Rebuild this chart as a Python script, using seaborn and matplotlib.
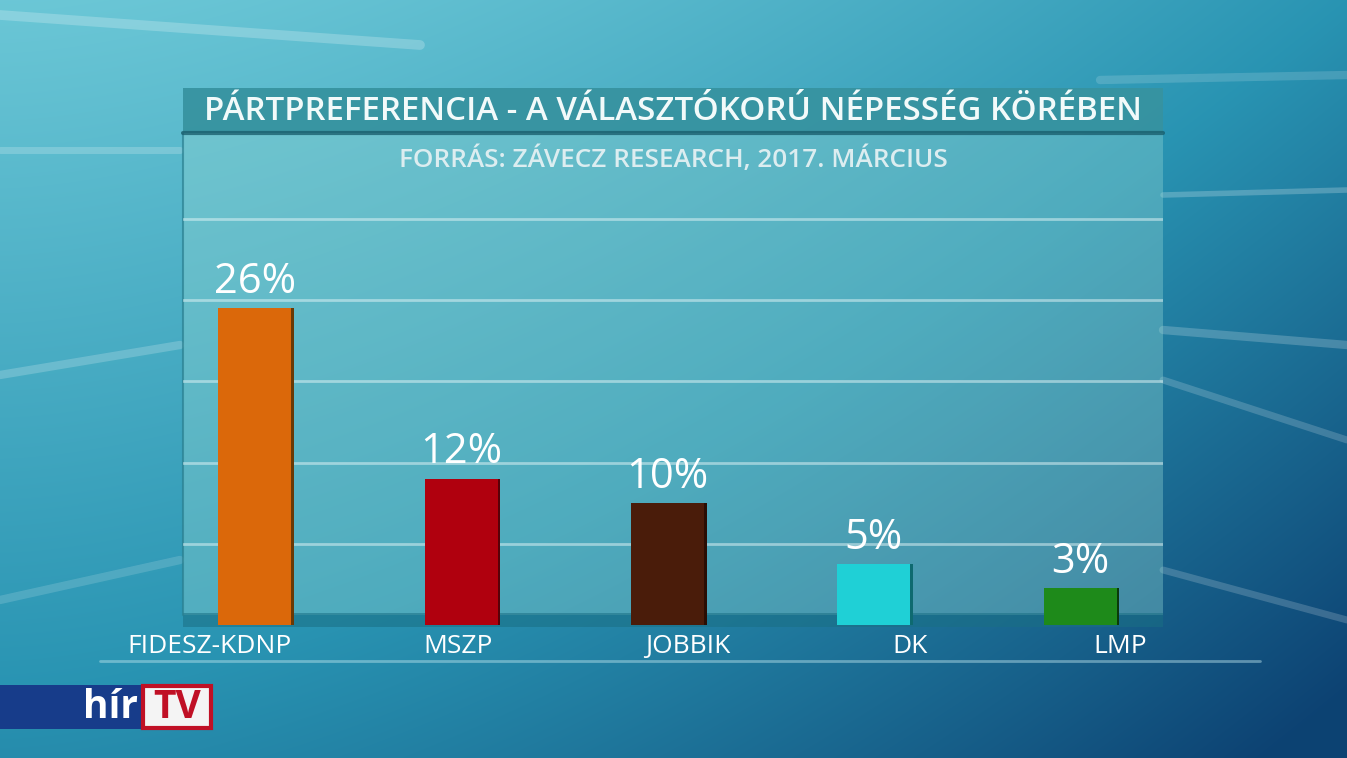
import numpy as np
import matplotlib
matplotlib.use("Agg")
import matplotlib.pyplot as plt
from matplotlib.patches import Rectangle
import seaborn as sns

parties = ["FIDESZ-KDNP", "MSZP", "JOBBIK", "DK", "LMP"]
values = [26, 12, 10, 5, 3]
value_labels = ["26%", "12%", "10%", "5%", "3%"]
title = "PÁRTPREFERENCIA - A VÁLASZTÓKORÚ NÉPESSÉG KÖRÉBEN"
subtitle = "FORRÁS: ZÁVECZ RESEARCH, 2017. MÁRCIUS"

bar_colors = ["#DB680A", "#B0000E", "#4A1C0A", "#1FD0D6", "#1E8A1A"]
side_colors = ["#6a3a06", "#5a0008", "#2a0e04", "#0e6a70", "#0a3a0a"]
label_shift = [-0.22, -0.015, 0.10, 0.175, 0.195]

sns.set_theme(style="white")
plt.rcParams['font.family'] = ['Open Sans', 'DejaVu Sans']

W, H = 1347, 758
fig = plt.figure(figsize=(W / 100, H / 100), dpi=100)

# ---- background
bg = fig.add_axes([0, 0, 1, 1])
yy, xx = np.mgrid[0:H, 0:W]
xf = xx / W
yf = yy / H
top = np.array([0.42, 0.78, 0.84])
mid = np.array([0.16, 0.58, 0.70])
dark = np.array([0.05, 0.26, 0.45])
t = np.clip(0.55 * yf + 0.5 * xf ** 1.6, 0, 1)[..., None]
img = np.where(t < 0.5, top + (mid - top) * (t / 0.5), mid + (dark - mid) * ((t - 0.5) / 0.5))
bg.imshow(img, extent=[0, W, H, 0], aspect="auto", zorder=0)
bg.set_xlim(0, W)
bg.set_ylim(H, 0)
bg.axis("off")

# soft streaks
for (x0, y0, x1, y1, a, lw) in [(0, 15, 420, 45, 0.22, 7), (0, 150, 180, 150, 0.2, 5),
                                (0, 375, 180, 345, 0.2, 6), (0, 600, 180, 560, 0.15, 6),
                                (1163, 330, 1347, 345, 0.2, 6), (1163, 380, 1347, 440, 0.18, 5),
                                (1163, 570, 1347, 620, 0.18, 5), (1163, 195, 1347, 190, 0.22, 4),
                                (1100, 80, 1347, 75, 0.15, 6)]:
    bg.plot([x0, x1], [y0, y1], color="white", alpha=a, lw=lw, solid_capstyle="round", zorder=1)

# panel
bg.add_patch(Rectangle((183, 88), 980, 527, facecolor="#8fd4d2", alpha=0.38, edgecolor="none", zorder=2))
bg.plot([183, 183], [133, 615], color="#2a7f90", lw=1.5, alpha=0.7, zorder=3)
# floor strip
bg.add_patch(Rectangle((183, 613), 980, 14, facecolor="#1a6f84", alpha=0.55, edgecolor="none", zorder=2))
bg.plot([100, 1260], [661, 661], color="#bfe6ee", lw=2, alpha=0.45, zorder=2)
# title bar
bg.add_patch(Rectangle((183, 88), 980, 45, facecolor="#33909e", alpha=0.9, edgecolor="none", zorder=3))
bg.plot([183, 1163], [133, 133], color="#1a5f6e", lw=3, alpha=0.8, zorder=3)
bg.text(673, 112, title, color="#f2fafa", fontsize=23.8, fontweight="semibold",
        ha="center", va="center", zorder=4)
bg.text(673, 160, subtitle, color="#dcedf0", fontsize=18.8, fontweight="semibold",
        ha="center", va="center", zorder=4)

# logo
bg.add_patch(Rectangle((0, 685), 212, 44, facecolor="#173c8a", edgecolor="none", zorder=3))
bg.add_patch(Rectangle((143, 686), 68, 42, facecolor="#f4f4f4", edgecolor="#c01025", lw=3, zorder=4))
bg.text(111, 708, "hír", color="white", fontsize=28, fontweight="bold", ha="center", va="center", zorder=5)
bg.text(177, 708, "TV", color="#c01025", fontsize=28, fontweight="bold", ha="center", va="center", zorder=5)

# ---- chart
px_per_pct = 12.18
ax = fig.add_axes([183 / W, (H - 625) / H, 980 / W, (625 - 133) / H])
ax.patch.set_alpha(0)
sns.barplot(x=parties, y=values, hue=parties, palette=bar_colors, legend=False,
            width=0.354, saturation=1, linewidth=0, ax=ax, zorder=3)
ax.set_xlim(-0.349, 4.402)
ax.set_ylim(0, (625 - 133) / px_per_pct)
ax.set_yticks(np.arange(1, 6) * 20 / 3)
ax.yaxis.grid(True, color="#e6f6f8", alpha=0.5, lw=2)
ax.xaxis.grid(False)
ax.set_axisbelow(True)
ax.tick_params(length=0, labelleft=False, labelbottom=False)
ax.set_xlabel("")
ax.set_ylabel("")
for s in ax.spines.values():
    s.set_visible(False)

containers = list(ax.containers)
bars = [b for c in containers for b in c]

for c in containers:
    ax.bar_label(c, labels=[value_labels[int(round(b.get_x() + b.get_width() / 2))] for b in c],
                 padding=4, color="white", fontsize=30)

# thin 3D side edge on the bars
for b in bars:
    i = int(round(b.get_x() + b.get_width() / 2))
    ax.bar(b.get_x() + b.get_width(), b.get_height(), width=0.012, align="edge",
           color=side_colors[i], zorder=3.5, linewidth=0)

for i, name in enumerate(parties):
    ax.text(i + label_shift[i], -1.8, name, color="white", fontsize=19,
            ha="center", va="center", clip_on=False)

fig.savefig("out.png", dpi=100)
